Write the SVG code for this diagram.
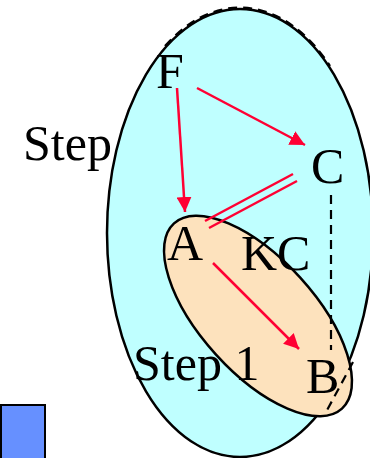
<svg xmlns="http://www.w3.org/2000/svg" width="370" height="458" viewBox="0 0 370 458">
<style>
text{font-family:"Liberation Serif","Times New Roman",serif;font-size:50px;fill:#000}
.red{stroke:#ff0033;stroke-width:2.5;fill:none}
.dash{stroke:#000;stroke-width:2.2;fill:none;stroke-dasharray:9,6}
</style>
<defs>
<marker id="ah" viewBox="0 0 10 10" refX="10" refY="5" markerWidth="6" markerHeight="6" markerUnits="strokeWidth" orient="auto">
<path d="M0,0 L10,5 L0,10 z" fill="#ff0033"/>
</marker>
</defs>
<g id="step">
<ellipse cx="240" cy="233" rx="133" ry="224" fill="#bfffff" stroke="#000" stroke-width="2.5"/>
<text x="23" y="160">Step</text>
</g>
<g id="step1">
<ellipse cx="258" cy="316" rx="125" ry="57" transform="rotate(47.8 258 316)" fill="#fde2bd" stroke="#000" stroke-width="2.5"/>
<text x="133" y="380">Step 1</text>
</g>
<g id="kc-region">
<path class="dash" d="M165,46 A134,225 0 0 1 330,66"/>
<path class="dash" d="M331,195 L331,350"/>
<path class="dash" d="M353,362 L325,414"/>
</g>
<g id="F"><text x="156" y="88">F</text></g>
<g id="C"><text x="311" y="183">C</text></g>
<g id="A"><text x="167" y="260">A</text></g>
<g id="KC"><text x="241" y="270">KC</text></g>
<g id="B"><text x="306" y="393">B</text></g>
<g id="legend"><rect x="1" y="405" width="44" height="56" fill="#6690ff" stroke="#000" stroke-width="2"/></g>
<g id="connectors">
<line class="red" x1="177" y1="88" x2="185" y2="212" marker-end="url(#ah)"/>
<line class="red" x1="197" y1="88" x2="305" y2="145" marker-end="url(#ah)"/>
<line class="red" x1="213" y1="263" x2="299" y2="349" marker-end="url(#ah)"/>
<line class="red" x1="293" y1="174" x2="205" y2="221" stroke-width="2"/>
<line class="red" x1="297" y1="181" x2="209" y2="228" stroke-width="2"/>
</g>
</svg>
